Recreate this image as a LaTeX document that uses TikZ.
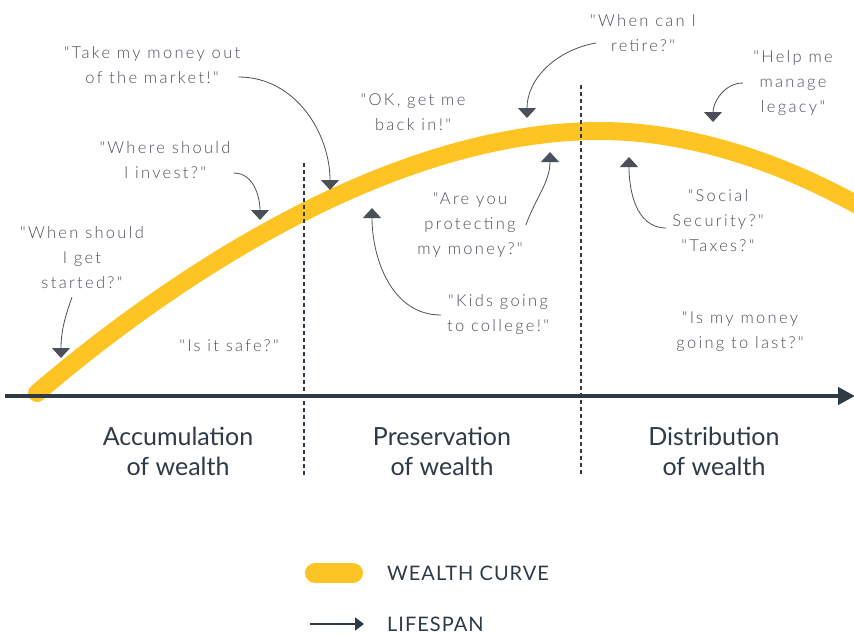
\documentclass[tikz,border=0pt]{standalone}
\usepackage{fontspec}
\setmainfont{Lato}
\newfontfamily\hand[LetterSpace=14]{Lato Light}
\newfontfamily\capsfont[LetterSpace=5]{Lato}
\usetikzlibrary{arrows.meta}

\definecolor{wealth}{HTML}{FEC424}
\definecolor{ink}{HTML}{2E3A45}
\definecolor{pencil}{HTML}{4B5058}

\begin{document}
\begin{tikzpicture}[x=1pt,y=-1pt]
        \tikzstyle{quote}=[font=\hand\fontsize{16.5}{25}\selectfont, text=pencil, align=center, inner sep=0pt]
        \tikzstyle{note}=[draw=pencil, line width=0.8pt, -{Triangle[width=18pt,length=10pt]}]
        \tikzstyle{stage}=[font=\fontsize{25}{30}\selectfont, text=ink, align=center, inner sep=0pt]
        \tikzstyle{divider}=[draw=ink, line width=1.2pt, dash pattern=on 4pt off 3pt]
        \tikzstyle{legend}=[font=\capsfont\fontsize{20}{20}\selectfont, text=ink, anchor=west, inner sep=0pt]

        \useasboundingbox (0,0) rectangle (854,634);

        % Wealth curve
        \begin{scope}
            \clip (0,0) rectangle (854,634);
            \coordinate (young) at (37,393);
            \coordinate (peak) at (600,131);
            \coordinate (old) at (880,218);
            \draw[wealth, line width=18pt, line cap=round]
                (young) .. controls (187,265) and (400,131) .. (peak)
                        .. controls (700,131) and (800,170) .. (old);
        \end{scope}

        % Stage dividers and lifespan axis
        \draw[divider] (304,163) -- (304,476);
        \draw[divider] (581,85) -- (581,476);
        \coordinate (birth) at (5,396);
        \coordinate (death) at (855,396);
        \draw[ink, line width=4pt, -{Triangle[width=17pt,length=17pt]}] (birth) -- (death);

        % Stages
        \node[stage] (accum) at (178,451) {Accumulation\\of wealth};
        \node[stage] (preserve) at (442,451) {Preservation\\of wealth};
        \node[stage] (distrib) at (714,451) {Distribution\\of wealth};

        % Quotes
        \node[quote] (take) at (152,65) {"Take my money out\\of the market!"};
        \node[quote] (invest) at (165,160) {"Where should\\I invest?"};
        \node[quote] (started) at (82,258) {"When should\\I get\\started?"};
        \node[quote] (safe) at (229,346) {"Is it safe?"};
        \node[quote] (backin) at (413,112) {"OK, get me\\back in!"};
        \node[quote] (retire) at (643,33) {"When can I\\retire?"};
        \node[quote] (legacy) at (793,83) {"Help me\\manage\\legacy"};
        \node[quote] (protect) at (470,225) {"Are you\\protecting\\my money?"};
        \node[quote] (kids) at (498,315) {"Kids going\\to college!"};
        \node[quote] (social) at (718,221) {"Social\\Security?"\\"Taxes?"};
        \node[quote] (last) at (740,332) {"Is my money\\going to last?"};

        % Arrow tips on the curve
        \coordinate (tiptake) at (330,190);
        \coordinate (tipinvest) at (260,220);
        \coordinate (tipstart) at (61,358);
        \coordinate (tipretire) at (527,118);
        \coordinate (tiplegacy) at (713,122);
        \coordinate (tipprotect) at (550,152);
        \coordinate (tipkids) at (372,208);
        \coordinate (tipsocial) at (629,157);

        % Edges
        \draw[note] ([xshift=-2pt, yshift=-12pt]take.east) to[out=0, in=90] (tiptake);
        \draw[note] ([xshift=3pt, yshift=-13pt]invest.east) to[out=0, in=90] (tipinvest);
        \draw[note] ([xshift=-10pt, yshift=-8pt]started.south) to[out=-110, in=90] (tipstart);
        \draw[note] ([xshift=6pt, yshift=-10pt]retire.west) to[out=190, in=90] (tipretire);
        \draw[note] ([xshift=-10pt]legacy.west) to[out=180, in=90] (tiplegacy);
        \draw[note] ([xshift=3pt]protect.east) to[out=70, in=-90] (tipprotect);
        \draw[note] ([xshift=-6pt]kids.west) to[out=180, in=-90] (tipkids);
        \draw[note] ([xshift=-6pt, yshift=-7pt]social.west) to[out=180, in=-90] (tipsocial);

        % Legend
        \coordinate (barl) at (315,573);
        \coordinate (barr) at (353,573);
        \draw[wealth, line width=20pt, line cap=round] (barl) -- (barr);
        \node[legend] (wc) at (387,573) {WEALTH CURVE};
        \coordinate (arrl) at (310,624);
        \coordinate (arrr) at (364,624);
        \draw[ink, line width=2.2pt, -{Triangle[width=13pt,length=9pt]}] (arrl) -- (arrr);
        \node[legend] (ls) at (387,624) {LIFESPAN};

    \end{tikzpicture}
\end{document}
